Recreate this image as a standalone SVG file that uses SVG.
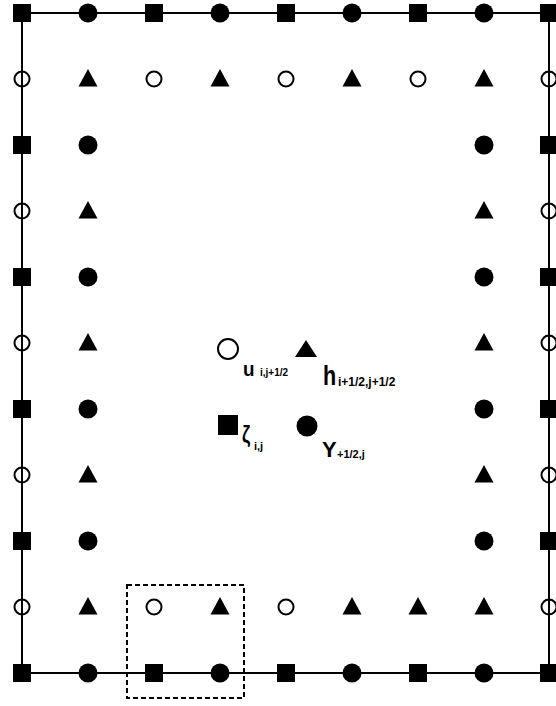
<svg xmlns="http://www.w3.org/2000/svg" width="556" height="706" viewBox="0 0 556 706">
<style>
.ln{stroke:#000;stroke-width:2;fill:none}
.fs{fill:#000}
.oc{fill:none;stroke:#000;stroke-width:2}
.dash{fill:none;stroke:#000;stroke-width:2;stroke-dasharray:5 3}
.lab{font-family:"Liberation Sans",Arial,sans-serif;font-weight:bold;fill:#000}
</style>
<defs>
<rect id="sq" x="-9" y="-9" width="18" height="18"/>
<circle id="fc" r="9.5"/>
<circle id="oc" r="7.5" class="oc"/>
<path id="tr" d="M0,-10 L9.5,7.5 L-9.5,7.5 Z"/>
</defs>
<rect width="556" height="706" fill="#fff"/>
<g id="connectors">
<rect class="ln" x="22" y="13" width="527" height="660"/>
<rect class="dash" x="127" y="585" width="117" height="113"/>
</g>
<g id="top-row">
<use href="#sq" x="22" y="13"/><use href="#fc" x="88" y="13"/><use href="#sq" x="154" y="13"/><use href="#fc" x="220" y="13"/><use href="#sq" x="286" y="13"/><use href="#fc" x="352" y="13"/><use href="#sq" x="418" y="13"/><use href="#fc" x="484" y="13"/><use href="#sq" x="549" y="13"/>
</g>
<g id="row2">
<use href="#oc" x="22" y="79"/><use href="#tr" x="88" y="79"/><use href="#oc" x="154" y="79"/><use href="#tr" x="220" y="79"/><use href="#oc" x="286" y="79"/><use href="#tr" x="352" y="79"/><use href="#oc" x="418" y="79"/><use href="#tr" x="484" y="79"/><use href="#oc" x="549" y="79"/>
</g>
<g id="left-cols">
<use href="#sq" x="22" y="145"/><use href="#fc" x="88" y="145"/>
<use href="#oc" x="22" y="211"/><use href="#tr" x="88" y="211"/>
<use href="#sq" x="22" y="277"/><use href="#fc" x="88" y="277"/>
<use href="#oc" x="22" y="343"/><use href="#tr" x="88" y="343"/>
<use href="#sq" x="22" y="409"/><use href="#fc" x="88" y="409"/>
<use href="#oc" x="22" y="475"/><use href="#tr" x="88" y="475"/>
<use href="#sq" x="22" y="541"/><use href="#fc" x="88" y="541"/>
</g>
<g id="right-cols">
<use href="#fc" x="484" y="145"/><use href="#sq" x="549" y="145"/>
<use href="#tr" x="484" y="211"/><use href="#oc" x="549" y="211"/>
<use href="#fc" x="484" y="277"/><use href="#sq" x="549" y="277"/>
<use href="#tr" x="484" y="343"/><use href="#oc" x="549" y="343"/>
<use href="#fc" x="484" y="409"/><use href="#sq" x="549" y="409"/>
<use href="#tr" x="484" y="475"/><use href="#oc" x="549" y="475"/>
<use href="#fc" x="484" y="541"/><use href="#sq" x="549" y="541"/>
</g>
<g id="row10">
<use href="#oc" x="22" y="607"/><use href="#tr" x="88" y="607"/><use href="#oc" x="154" y="607"/><use href="#tr" x="220" y="607"/><use href="#oc" x="286" y="607"/><use href="#tr" x="352" y="607"/><use href="#tr" x="418" y="607"/><use href="#tr" x="484" y="607"/><use href="#oc" x="549" y="607"/>
</g>
<g id="bottom-row">
<use href="#sq" x="22" y="673"/><use href="#fc" x="88" y="673"/><use href="#sq" x="154" y="673"/><use href="#fc" x="220" y="673"/><use href="#sq" x="286" y="673"/><use href="#fc" x="352" y="673"/><use href="#sq" x="418" y="673"/><use href="#fc" x="484" y="673"/><use href="#sq" x="549" y="673"/>
</g>
<g id="legend-u">
<circle cx="228" cy="349" r="10" class="oc"/>
<text class="lab" transform="translate(243,376) scale(0.9,1)" font-size="21">u</text>
<text class="lab" x="260" y="376" font-size="10">i,j+1/2</text>
</g>
<g id="legend-h">
<path class="fs" d="M306,340 L317,357 L295,357 Z"/>
<text class="lab" transform="translate(323,385) scale(0.8,1)" font-size="27">h</text>
<text class="lab" x="338" y="386" font-size="12">i+1/2,j+1/2</text>
</g>
<g id="legend-zeta">
<rect class="fs" x="218" y="415" width="20" height="20"/>
<text class="lab" transform="translate(242,443) scale(0.75,1)" font-size="24">ζ</text>
<text class="lab" x="254" y="450" font-size="11">i,j</text>
</g>
<g id="legend-v">
<circle class="fs" cx="307" cy="426" r="10.5"/>
<text class="lab" x="322" y="457" font-size="22">Y</text>
<text class="lab" x="337" y="458" font-size="11">+1/2,j</text>
</g>
</svg>
